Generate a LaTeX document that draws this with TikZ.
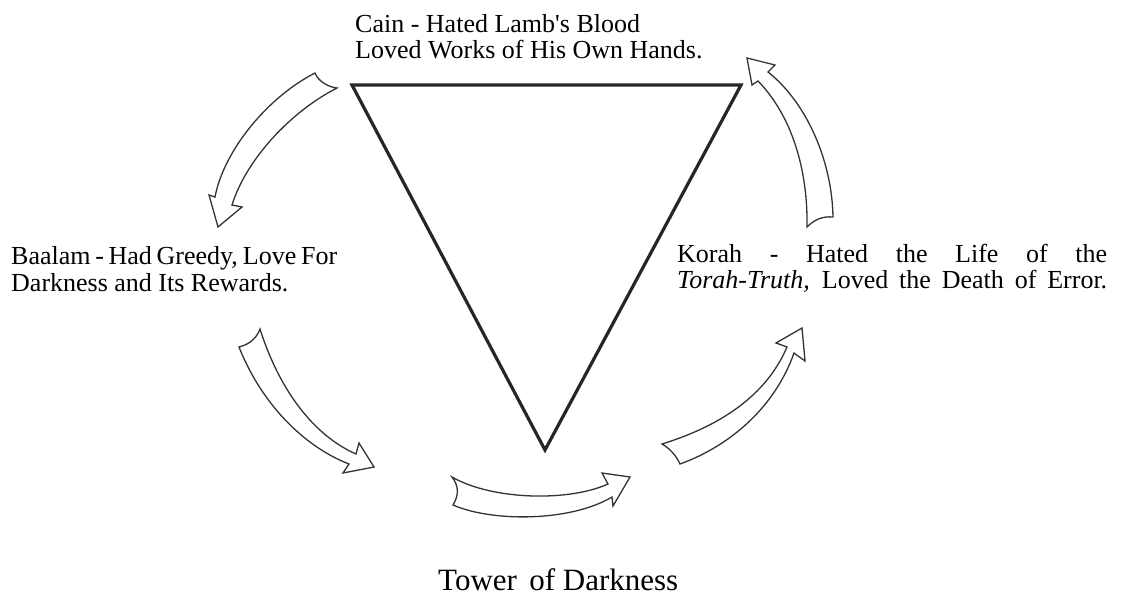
\documentclass[tikz,border=0pt]{standalone}
\usepackage{fontspec}
\setmainfont{Liberation Serif}[Ligatures=TeXOff]
\begin{document}
\begin{tikzpicture}[x=1pt,y=-1pt,
  lbl/.style={anchor=base west,inner sep=0pt,font=\fontsize{26}{26}\selectfont},
  tri/.style={draw=black!85,line width=3.2pt,line join=miter},
  hollow/.style={draw=black!80,fill=white,line width=1.3pt,line join=miter}]
\useasboundingbox (0,0) rectangle (1122,598);
% triangle
\coordinate (tl) at (352,85);
\coordinate (tr) at (741,85);
\coordinate (bt) at (545,450);
\draw[tri] (tl) -- (tr) -- (bt) -- cycle;
% texts
\node[lbl] (cainA) at (355,32) {Cain - Hated Lamb's Blood};
\node[lbl] (cainB) at (355,58) {Loved Works of His Own Hands.};
\node[lbl] (balA) at (11,264) {\makebox[326pt][s]{Baalam - Had Greedy, Love For}};
\node[lbl] (balB) at (11,291) {Darkness and Its Rewards.};
\node[lbl] (korA) at (677,262) {\makebox[430pt][s]{Korah - Hated the Life of the}};
\node[lbl] (korB) at (677,288) {\makebox[430pt][s]{\textit{Torah-Truth,} Loved the Death of Error.}};
\node[anchor=base west,inner sep=0pt,font=\fontsize{31}{31}\selectfont] (tower) at (438,590) {Tower\hspace{0.4em}of Darkness};
% arrow 1: top-left, going down-left
\draw[hollow] (315,73) .. controls (268,97) and (224,150) .. (215,197)
  -- (209,195) -- (218,227) -- (242,207) -- (232,205)
  .. controls (246,160) and (290,112) .. (337,88)
  .. controls (328,87) and (318,81) .. cycle;
% arrow 3: lower-left, going down-right
\draw[hollow] (239,347) .. controls (262,405) and (305,447) .. (349,464)
  -- (343,473) -- (374,467) -- (359,443) -- (356,454)
  .. controls (315,436) and (280,392) .. (260,329)
  .. controls (256,340) and (247,345) .. cycle;
% arrow 4: bottom, going right
\draw[hollow] (452,477) .. controls (492,500) and (568,502) .. (608,484)
  -- (602,473) -- (630,477) -- (613,506) -- (612,497)
  .. controls (570,522) and (492,522) .. (453,505)
  .. controls (459,495) and (459,486) .. cycle;
% arrow 5: lower-right, going up-right
\draw[hollow] (662,444) .. controls (720,426) and (766,396) .. (787,347)
  -- (776,343) -- (802,328) -- (805,361) -- (794,353)
  .. controls (775,407) and (730,446) .. (680,464)
  .. controls (676,455) and (669,448) .. cycle;
% arrow 2: upper-right, going up-left
\draw[hollow] (807,227) .. controls (808,170) and (792,116) .. (758,81)
  -- (752,85) -- (747,58) -- (775,65) -- (768,72)
  .. controls (806,102) and (832,160) .. (833,217)
  .. controls (822,216) and (814,220) .. cycle;
\end{tikzpicture}
\end{document}
